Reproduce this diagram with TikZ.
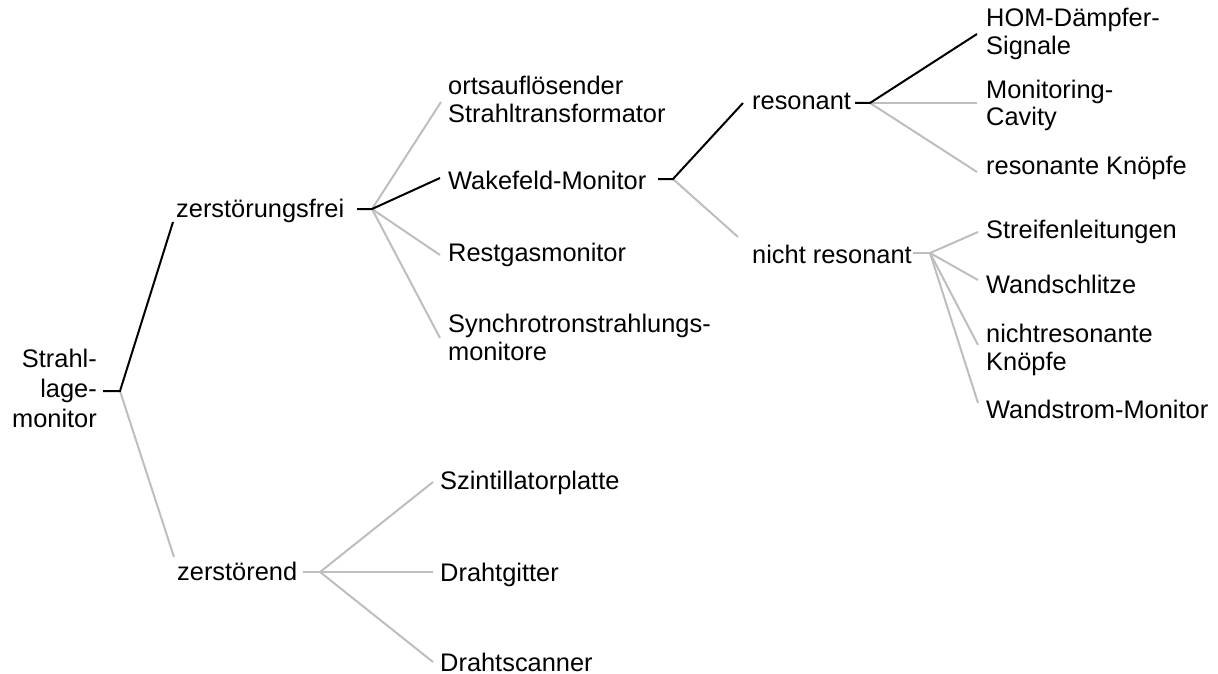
\documentclass[tikz,border=0pt]{standalone}
\usepackage{fontspec}
\setmainfont{Liberation Sans}
\usetikzlibrary{calc}
\definecolor{edgegray}{RGB}{190,190,190}
\tikzset{
  lbl/.style={inner sep=0pt, anchor=base west, align=left, font=\fontsize{25.4}{28}\selectfont},
  hi/.style={draw=black, line width=2pt},
  lo/.style={draw=edgegray, line width=2pt},
}
\begin{document}
\begin{tikzpicture}[x=1pt,y=-1pt]
\useasboundingbox (0,0) rectangle (1218,674);
% labels (multi-line labels are placed by their last baseline)
\node[lbl, anchor=base east, align=right, font=\fontsize{25.4}{30}\selectfont] (root) at (97,427) {Strahl-\\lage-\\monitor};
\node[lbl] (zf) at (176,217) {zerstörungsfrei};
\node[lbl] (zd) at (177,580) {zerstörend};
\node[lbl] (orts) at (448,123) {ortsauflösender\\Strahltransformator};
\node[lbl] (wake) at (448,189) {Wakefeld-Monitor};
\node[lbl] (rest) at (448,261) {Restgasmonitor};
\node[lbl] (sync) at (448,360) {Synchrotronstrahlungs-\\monitore};
\node[lbl] (szin) at (440,489) {Szintillatorplatte};
\node[lbl] (gitter) at (440,581) {Drahtgitter};
\node[lbl] (scan) at (440,671) {Drahtscanner};
\node[lbl] (res) at (752,110) {resonant};
\node[lbl] (nres) at (752,263) {nicht resonant};
\node[lbl] (hom) at (986,55) {HOM-Dämpfer-\\Signale};
\node[lbl] (moncav) at (986,126) {Monitoring-\\Cavity};
\node[lbl] (rkn) at (986,175) {resonante Knöpfe};
\node[lbl] (streif) at (986,238) {Streifenleitungen};
\node[lbl] (wschl) at (986,293) {Wandschlitze};
\node[lbl] (nrk) at (986,370) {nichtresonante\\Knöpfe};
\node[lbl] (wstrom) at (986,418) {Wandstrom-Monitor};
% junctions
\coordinate (j0) at (120,391);
\coordinate (j1) at (372,209);
\coordinate (j2) at (673,179);
\coordinate (j3) at (870,103);
\coordinate (j4) at (930,253);
\coordinate (j5) at (320,572);
% gray connectors
\draw[lo] (j0) -- ([xshift=-3pt,yshift=23pt]zd.base west);
\draw[lo] (j1) -- ([xshift=-7pt,yshift=21pt]orts.base west);
\draw[lo] (j1) -- ([xshift=-8pt,yshift=6pt]rest.base west);
\draw[lo] (j1) -- ([xshift=-8pt,yshift=22pt]sync.base west);
\draw[lo] (j2) -- ([xshift=-14pt,yshift=26pt]nres.base west);
\draw[lo] (j3) -- ([xshift=-9pt,yshift=23pt]moncav.base west);
\draw[lo] (j3) -- ([xshift=-9pt,yshift=3pt]rkn.base west);
\draw[lo] ($(j4)+(-17,0)$) -- (j4);
\draw[lo] (j4) -- ([xshift=-8pt,yshift=6pt]streif.base west);
\draw[lo] (j4) -- ([xshift=-8pt,yshift=13pt]wschl.base west);
\draw[lo] (j4) -- ([xshift=-8pt,yshift=25pt]nrk.base west);
\draw[lo] (j4) -- ([xshift=-8pt,yshift=15pt]wstrom.base west);
\draw[lo] ($(j5)+(-17,0)$) -- (j5);
\draw[lo] (j5) -- ([xshift=-7pt,yshift=7pt]szin.base west);
\draw[lo] (j5) -- ([xshift=-7pt,yshift=9pt]gitter.base west);
\draw[lo] (j5) -- ([xshift=-7pt,yshift=9pt]scan.base west);
% black (highlighted) path
\draw[hi] ($(j0)+(-17,0)$) -- (j0) -- ([xshift=-3pt,yshift=-5pt]zf.base west);
\draw[hi] ($(j1)+(-15,0)$) -- (j1) -- ([xshift=-8pt,yshift=11pt]wake.base west);
\draw[hi] ($(j2)+(-15,0)$) -- (j2) -- ([xshift=-9pt,yshift=7pt]res.base west);
\draw[hi] ($(j3)+(-15,0)$) -- (j3) -- ([xshift=-9pt,yshift=21pt]hom.base west);
\end{tikzpicture}
\end{document}
